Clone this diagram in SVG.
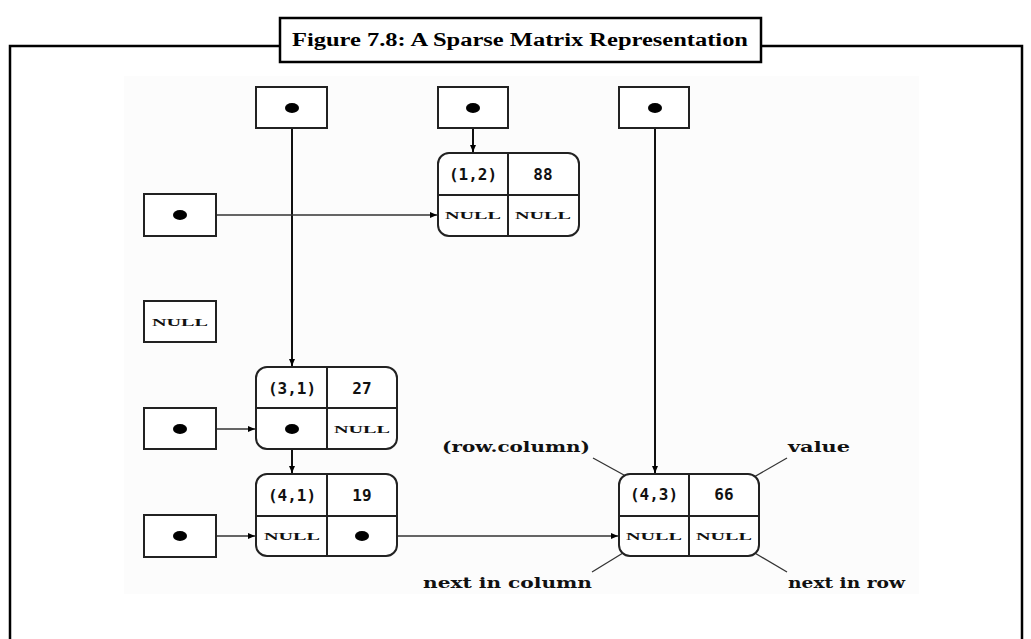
<svg xmlns="http://www.w3.org/2000/svg" width="1031" height="639" viewBox="0 0 1031 639">
<style>
.frame{fill:none;stroke:#000;stroke-width:2.5}
.box{fill:#fff;stroke:#222;stroke-width:2}
.cell{fill:none;stroke:#222;stroke-width:2}
.ln{stroke:#111;stroke-width:2;fill:none}
.thin{stroke:#333;stroke-width:1.3;fill:none}
.dot{fill:#000}
.t{font-family:"DejaVu Sans Mono",monospace;font-weight:bold;font-size:16px;fill:#111;text-anchor:middle}
.nl{font-family:"Liberation Serif",serif;font-weight:bold;font-size:11px;fill:#111;text-anchor:middle}
.lab{font-family:"DejaVu Serif",serif;font-weight:bold;font-size:14px;fill:#111}
.title{font-family:"Liberation Serif",serif;font-weight:bold;font-size:18px;fill:#000;text-anchor:middle}
</style>
<defs>
<marker id="ah" markerWidth="8" markerHeight="8" refX="7" refY="4" orient="auto" markerUnits="userSpaceOnUse">
<path d="M0,1 L7,4 L0,7 z" fill="#000"/>
</marker>
</defs>
<rect width="1031" height="639" fill="#fff"/>
<rect x="124" y="76" width="795" height="518" fill="#fcfcfc"/>
<g id="frame">
<path class="frame" d="M10,639 L10,46 L280,46 M761,46 L1022,46 L1022,639"/>
<rect class="frame" x="280" y="18" width="481" height="44" fill="#fff"/>
<text class="title" x="520" y="46" textLength="456" lengthAdjust="spacingAndGlyphs">Figure 7.8: A Sparse Matrix Representation</text>
</g>
<g id="connectors">
<line class="ln" x1="292" y1="108" x2="292" y2="366" marker-end="url(#ah)"/>
<line class="ln" x1="473" y1="108" x2="473" y2="152" marker-end="url(#ah)"/>
<line class="ln" x1="655" y1="108" x2="655" y2="473" marker-end="url(#ah)"/>
<line class="thin" x1="180" y1="215" x2="437" y2="215" marker-end="url(#ah)"/>
<line class="thin" x1="180" y1="429" x2="255" y2="429" marker-end="url(#ah)"/>
<line class="ln" x1="292" y1="429" x2="292" y2="473" marker-end="url(#ah)"/>
<line class="thin" x1="180" y1="536" x2="255" y2="536" marker-end="url(#ah)"/>
<line class="thin" x1="362" y1="536" x2="618" y2="536" marker-end="url(#ah)"/>
<line class="thin" x1="593" y1="458" x2="633" y2="480"/>
<line class="thin" x1="787" y1="458" x2="747" y2="481"/>
<line class="thin" x1="592" y1="572" x2="623" y2="553"/>
<line class="thin" x1="787" y1="572" x2="753" y2="552"/>
</g>
<g id="colhead1"><rect class="box" x="256" y="87" width="71" height="41"/><ellipse class="dot" cx="292" cy="108" rx="7" ry="5"/></g>
<g id="colhead2"><rect class="box" x="438" y="87" width="70" height="41"/><ellipse class="dot" cx="473" cy="108" rx="7" ry="5"/></g>
<g id="colhead3"><rect class="box" x="619" y="87" width="70" height="41"/><ellipse class="dot" cx="655" cy="108" rx="7" ry="5"/></g>
<g id="rowhead1"><rect class="box" x="144" y="194" width="72" height="42"/><ellipse class="dot" cx="180" cy="215" rx="7" ry="5"/></g>
<g id="rowhead2"><rect class="box" x="144" y="301" width="72" height="41"/><text class="nl" x="180" y="326" textLength="56" lengthAdjust="spacingAndGlyphs">NULL</text></g>
<g id="rowhead3"><rect class="box" x="144" y="408" width="72" height="41"/><ellipse class="dot" cx="180" cy="429" rx="7" ry="5"/></g>
<g id="rowhead4"><rect class="box" x="144" y="515" width="72" height="42"/><ellipse class="dot" cx="180" cy="536" rx="7" ry="5"/></g>
<g id="node12">
<rect class="box" x="438" y="153" width="141" height="83" rx="11"/>
<path class="cell" d="M508,153 V236 M438,195 H579"/>
<text class="t" x="473" y="180">(1,2)</text><text class="t" x="543" y="180">88</text>
<text class="nl" x="473" y="219" textLength="56" lengthAdjust="spacingAndGlyphs">NULL</text>
<text class="nl" x="543" y="219" textLength="56" lengthAdjust="spacingAndGlyphs">NULL</text>
</g>
<g id="node31">
<rect class="box" x="256" y="367" width="141" height="82" rx="11"/>
<path class="cell" d="M327,367 V449 M256,408 H397"/>
<text class="t" x="292" y="394">(3,1)</text><text class="t" x="362" y="394">27</text>
<ellipse class="dot" cx="292" cy="429" rx="7" ry="5"/>
<text class="nl" x="362" y="433" textLength="56" lengthAdjust="spacingAndGlyphs">NULL</text>
</g>
<g id="node41">
<rect class="box" x="256" y="474" width="141" height="82" rx="11"/>
<path class="cell" d="M327,474 V556 M256,516 H397"/>
<text class="t" x="292" y="501">(4,1)</text><text class="t" x="362" y="501">19</text>
<text class="nl" x="292" y="540" textLength="56" lengthAdjust="spacingAndGlyphs">NULL</text>
<ellipse class="dot" cx="362" cy="536" rx="7" ry="5"/>
</g>
<g id="node43">
<rect class="box" x="619" y="474" width="140" height="82" rx="11"/>
<path class="cell" d="M689,474 V556 M619,516 H759"/>
<text class="t" x="654" y="500">(4,3)</text><text class="t" x="724" y="500">66</text>
<text class="nl" x="654" y="540" textLength="56" lengthAdjust="spacingAndGlyphs">NULL</text>
<text class="nl" x="724" y="540" textLength="56" lengthAdjust="spacingAndGlyphs">NULL</text>
</g>
<g id="labels">
<text class="lab" x="442" y="452" textLength="148" lengthAdjust="spacingAndGlyphs">(row.column)</text>
<text class="lab" x="788" y="452" textLength="62" lengthAdjust="spacingAndGlyphs">value</text>
<text class="lab" x="423" y="588" textLength="169" lengthAdjust="spacingAndGlyphs">next in column</text>
<text class="lab" x="788" y="588" textLength="117" lengthAdjust="spacingAndGlyphs">next in row</text>
</g>
</svg>
